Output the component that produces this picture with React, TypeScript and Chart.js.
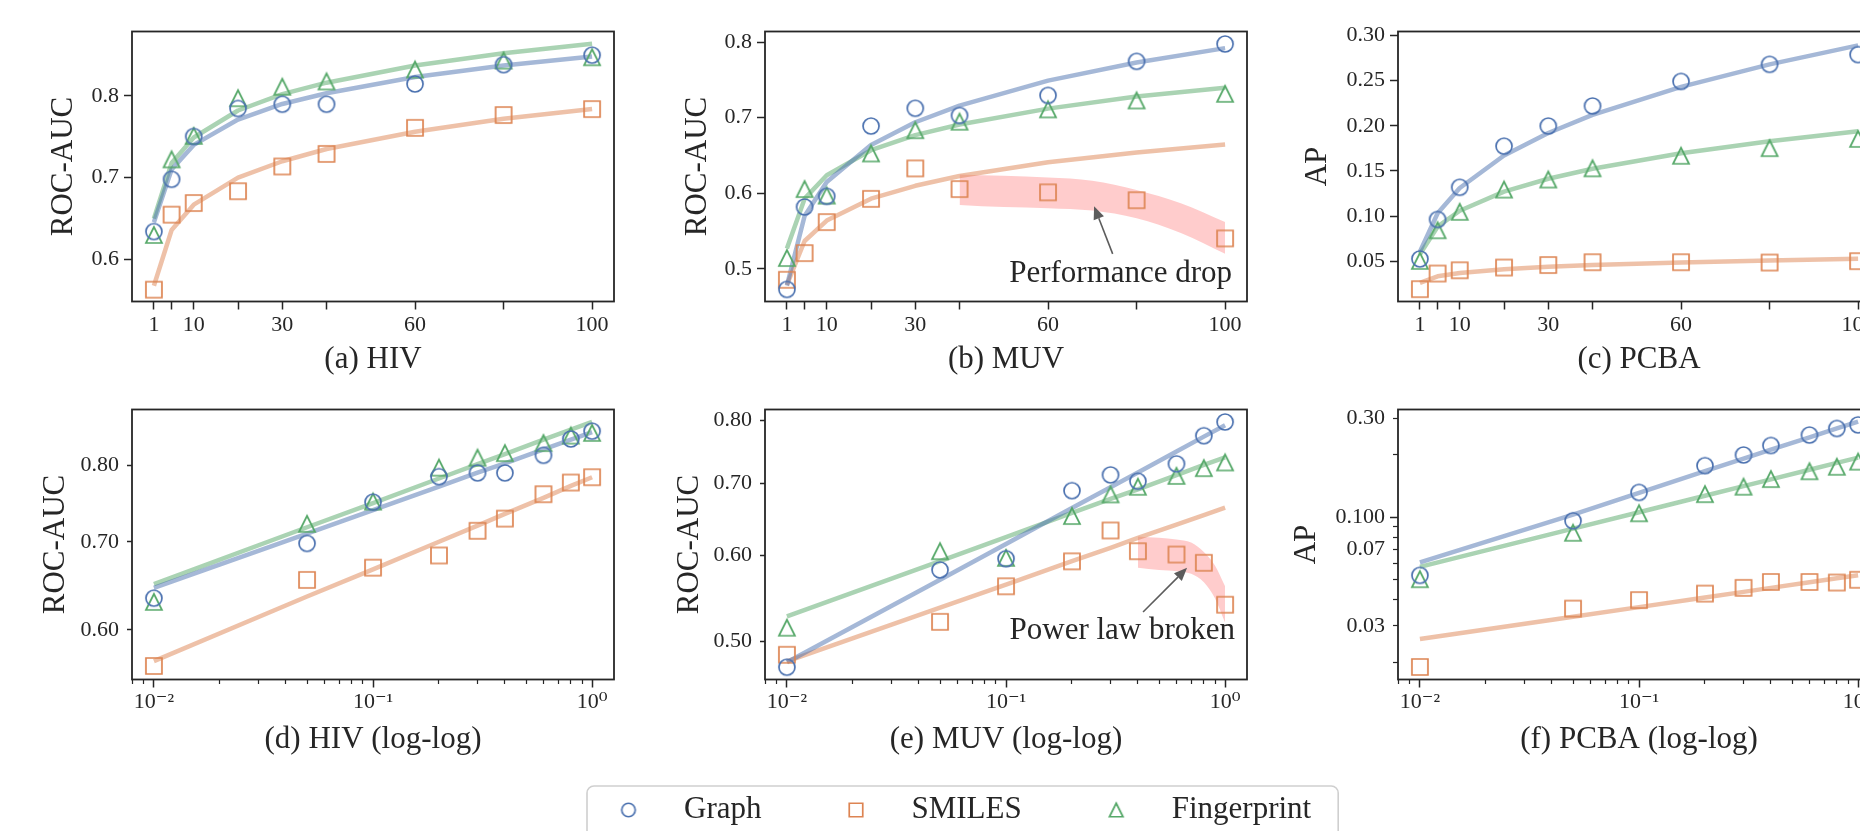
import React, { useEffect, useRef } from 'react';
import { Chart, registerables } from 'chart.js';

Chart.register(...registerables);

const FONT = '"Liberation Serif", "DejaVu Serif", serif';
const TXT = '#262626';
const AX = '#262626';
const ARROW = '#5c5c5c';

const SERIES_LABELS = ['Graph', 'SMILES', 'Fingerprint'];
const SERIES_COLORS = ['#4c72b0', '#dd8452', '#55a868'];
const FIT_COLORS = ['rgba(76,114,176,0.5)', 'rgba(221,132,82,0.5)', 'rgba(85,168,104,0.5)'];
const BAND_COLOR = 'rgba(255,0,0,0.2)';

// x values (percent of data / fraction of data)
const X_LIN = [1, 5, 10, 20, 30, 40, 60, 80, 100];
const X_LOG = [0.01, 0.05, 0.1, 0.2, 0.3, 0.4, 0.6, 0.8, 1.0];

// tick values and labels
const X_LIN_TICKS = [1, 5, 10, 20, 30, 40, 60, 80, 100];
const X_LIN_TICK_LABELS = ['1', '', '10', '', '30', '', '60', '', '100'];
const X_LOG_MAJOR = [0.01, 0.1, 1];
const X_LOG_MAJOR_LABELS = ['10\u207B\u00B2', '10\u207B\u00B9', '10\u2070'];
const X_LOG_MINOR = [0.008, 0.009, 0.02, 0.03, 0.04, 0.05, 0.06, 0.07, 0.08, 0.09, 0.2, 0.3, 0.4, 0.5, 0.6, 0.7, 0.8, 0.9];

const Y_TICKS_HIV = [0.6, 0.7, 0.8];
const Y_LABELS_HIV = ['0.6', '0.7', '0.8'];
const Y_TICKS_MUV = [0.5, 0.6, 0.7, 0.8];
const Y_LABELS_MUV = ['0.5', '0.6', '0.7', '0.8'];
const Y_TICKS_PCBA = [0.05, 0.1, 0.15, 0.2, 0.25, 0.3];
const Y_LABELS_PCBA = ['0.05', '0.10', '0.15', '0.20', '0.25', '0.30'];
const Y_TICKS_HIV_LOG = [0.6, 0.7, 0.8];
const Y_LABELS_HIV_LOG = ['0.60', '0.70', '0.80'];
const Y_TICKS_MUV_LOG = [0.5, 0.6, 0.7, 0.8];
const Y_LABELS_MUV_LOG = ['0.50', '0.60', '0.70', '0.80'];
const Y_TICKS_PCBA_LOG = [0.03, 0.07, 0.1, 0.3];
const Y_LABELS_PCBA_LOG = ['0.03', '0.07', '0.100', '0.30'];
const Y_MINOR_PCBA_LOG = [0.02, 0.03, 0.04, 0.05, 0.06, 0.07, 0.08, 0.09, 0.2, 0.3];

// HIV (ROC-AUC)
const HIV_GRAPH = [0.6342, 0.698, 0.7503, 0.7845, 0.7897, 0.7897, 0.8144, 0.838, 0.8496];
const HIV_SMILES = [0.5632, 0.6548, 0.669, 0.6834, 0.7136, 0.729, 0.7608, 0.7765, 0.7837];
const HIV_FP = [0.63, 0.7223, 0.751, 0.797, 0.811, 0.8175, 0.832, 0.843, 0.847];
const HIV_GRAPH_FIT = [0.6456, 0.71, 0.74, 0.771, 0.79, 0.803, 0.823, 0.837, 0.848];
const HIV_SMILES_FIT = [0.568, 0.636, 0.667, 0.7, 0.72, 0.735, 0.756, 0.772, 0.7837];
const HIV_FP_FIT = [0.65, 0.718, 0.749, 0.782, 0.802, 0.816, 0.837, 0.852, 0.8635];

// MUV (ROC-AUC)
const MUV_GRAPH = [0.473, 0.582, 0.596, 0.689, 0.7125, 0.703, 0.7295, 0.7745, 0.7975];
const MUV_SMILES = [0.4857, 0.521, 0.562, 0.5927, 0.633, 0.6056, 0.6013, 0.5909, 0.5404];
const MUV_FP = [0.5145, 0.6056, 0.597, 0.6527, 0.6835, 0.6947, 0.711, 0.7228, 0.7316];
const MUV_GRAPH_FIT = [0.478, 0.57, 0.615, 0.664, 0.694, 0.716, 0.749, 0.773, 0.792];
const MUV_SMILES_FIT = [0.479, 0.537, 0.564, 0.593, 0.61, 0.623, 0.641, 0.654, 0.6645];
const MUV_FP_FIT = [0.527, 0.593, 0.624, 0.657, 0.677, 0.691, 0.712, 0.728, 0.7395];
const MUV_BAND_X_LIN = [40, 50, 60, 70, 80, 90, 100];
const MUV_BAND_X_LOG = [0.4, 0.5, 0.6, 0.7, 0.8, 0.9, 1.0];
const MUV_BAND_UPPER = [0.625, 0.6232, 0.621, 0.6168, 0.6045, 0.587, 0.562];
const MUV_BAND_LOWER = [0.5846, 0.5818, 0.5804, 0.5772, 0.567, 0.5475, 0.52];

// PCBA (AP)
const PCBA_GRAPH = [0.0525, 0.0962, 0.1318, 0.1774, 0.1997, 0.2219, 0.2491, 0.268, 0.2788];
const PCBA_SMILES = [0.019, 0.0363, 0.0399, 0.0429, 0.0457, 0.0488, 0.0488, 0.0485, 0.05];
const PCBA_FP = [0.0503, 0.0842, 0.1046, 0.1293, 0.1404, 0.1528, 0.1667, 0.1752, 0.1854];
const PCBA_GRAPH_FIT = [0.0606, 0.103, 0.131, 0.167, 0.192, 0.212, 0.243, 0.268, 0.289];
const PCBA_SMILES_FIT = [0.0259, 0.0332, 0.0369, 0.0411, 0.0437, 0.0457, 0.0486, 0.0508, 0.0526];
const PCBA_FP_FIT = [0.0577, 0.0882, 0.1058, 0.127, 0.1413, 0.1524, 0.1696, 0.1829, 0.194];

// annotations (data coordinates)
const ANNOT_MUV_LIN = { text: 'Performance drop', at: [76.4, 0.4938], tail: [74.6, 0.52], head: [70.4, 0.583] };
const ANNOT_MUV_LOG = { text: 'Power law broken', at: [0.3395, 0.511], tail: [0.4223, 0.532], head: [0.6707, 0.5845] };

type Panel = {
  col: number; row: number; log: boolean;
  series: number[][]; fits: number[][];
  yMin: number; yMax: number; yTicks: number[]; yLabels: string[]; yMinor?: number[];
  majorValue?: number; yTickLen: number;
  yTitle: string; xTitle: string; yTitlePad: number;
  band?: { x: number[]; upper: number[]; lower: number[] };
  annot?: any;
};

const PANELS: Panel[] = [
  { col: 0, row: 0, log: false, series: [HIV_GRAPH, HIV_SMILES, HIV_FP], fits: [HIV_GRAPH_FIT, HIV_SMILES_FIT, HIV_FP_FIT],
    yMin: 0.5487, yMax: 0.8785, yTicks: Y_TICKS_HIV, yLabels: Y_LABELS_HIV, yTickLen: 8,
    yTitle: 'ROC-AUC', xTitle: '(a) HIV', yTitlePad: 45.4 },
  { col: 1, row: 0, log: false, series: [MUV_GRAPH, MUV_SMILES, MUV_FP], fits: [MUV_GRAPH_FIT, MUV_SMILES_FIT, MUV_FP_FIT],
    yMin: 0.457, yMax: 0.814, yTicks: Y_TICKS_MUV, yLabels: Y_LABELS_MUV, yTickLen: 8,
    yTitle: 'ROC-AUC', xTitle: '(b) MUV', yTitlePad: 46.4,
    band: { x: MUV_BAND_X_LIN, upper: MUV_BAND_UPPER, lower: MUV_BAND_LOWER }, annot: ANNOT_MUV_LIN },
  { col: 2, row: 0, log: false, series: [PCBA_GRAPH, PCBA_SMILES, PCBA_FP], fits: [PCBA_GRAPH_FIT, PCBA_SMILES_FIT, PCBA_FP_FIT],
    yMin: 0.0053, yMax: 0.3044, yTicks: Y_TICKS_PCBA, yLabels: Y_LABELS_PCBA, yTickLen: 8,
    yTitle: 'AP', xTitle: '(c) PCBA', yTitlePad: 33.4 },
  { col: 0, row: 1, log: true, series: [HIV_GRAPH, HIV_SMILES, HIV_FP], fits: [HIV_GRAPH_FIT, HIV_SMILES_FIT, HIV_FP_FIT],
    yMin: 0.5518, yMax: 0.8824, yTicks: Y_TICKS_HIV_LOG, yLabels: Y_LABELS_HIV_LOG, yTickLen: 5,
    yTitle: 'ROC-AUC', xTitle: '(d) HIV (log-log)', yTitlePad: 37.4 },
  { col: 1, row: 1, log: true, series: [MUV_GRAPH, MUV_SMILES, MUV_FP], fits: [MUV_GRAPH_FIT, MUV_SMILES_FIT, MUV_FP_FIT],
    yMin: 0.4608, yMax: 0.819, yTicks: Y_TICKS_MUV_LOG, yLabels: Y_LABELS_MUV_LOG, yTickLen: 5,
    yTitle: 'ROC-AUC', xTitle: '(e) MUV (log-log)', yTitlePad: 38.4,
    band: { x: MUV_BAND_X_LOG, upper: MUV_BAND_UPPER, lower: MUV_BAND_LOWER }, annot: ANNOT_MUV_LOG },
  { col: 2, row: 1, log: true, series: [PCBA_GRAPH, PCBA_SMILES, PCBA_FP], fits: [PCBA_GRAPH_FIT, PCBA_SMILES_FIT, PCBA_FP_FIT],
    yMin: 0.01653, yMax: 0.3308, yTicks: Y_TICKS_PCBA_LOG, yLabels: Y_LABELS_PCBA_LOG, yMinor: Y_MINOR_PCBA_LOG, majorValue: 0.1, yTickLen: 8,
    yTitle: 'AP', xTitle: '(f) PCBA (log-log)', yTitlePad: 22.4 },
];

const CANVAS_W = 633;
const CANVAS_H = 380;
const ROW_PITCH = 378;
const Y_AXIS_W = 132;
const X_AXIS_H = 78.5;

function makeMarker(shape: string, color: string, size: number, lw: number): HTMLCanvasElement {
  const half = Math.ceil((size + lw) / 2 + 2);
  const dim = half * 2;
  const c = document.createElement('canvas');
  c.width = dim; c.height = dim;
  const g = c.getContext('2d')!;
  g.strokeStyle = color; g.lineWidth = lw; g.lineJoin = 'miter';
  const h = size / 2;
  g.beginPath();
  if (shape === 'circle') g.arc(half, half, h, 0, Math.PI * 2);
  else if (shape === 'square') g.rect(half - h, half - h, size, size);
  else { g.moveTo(half, half - h); g.lineTo(half - h, half + h); g.lineTo(half + h, half + h); g.closePath(); }
  g.stroke();
  return c;
}

const framePlugin = {
  id: 'frame',
  afterDatasetsDraw(chart: any) {
    const { left, top, right, bottom } = chart.chartArea;
    const ctx = chart.ctx;
    ctx.save();
    ctx.strokeStyle = AX; ctx.lineWidth = 1.8;
    ctx.strokeRect(left, top, right - left, bottom - top);
    ctx.restore();
  },
};

const annotPlugin = {
  id: 'annot',
  afterDatasetsDraw(chart: any, _args: any, opts: any) {
    if (!opts || !opts.text) return;
    const xs = chart.scales.x, ys = chart.scales.y, ctx = chart.ctx;
    const tx = xs.getPixelForValue(opts.tail[0]), ty = ys.getPixelForValue(opts.tail[1]);
    const hx = xs.getPixelForValue(opts.head[0]), hy = ys.getPixelForValue(opts.head[1]);
    const ang = Math.atan2(hy - ty, hx - tx);
    const L = 13, W = 5.5;
    const bx = hx - L * Math.cos(ang), by = hy - L * Math.sin(ang);
    ctx.save();
    ctx.strokeStyle = ARROW; ctx.fillStyle = ARROW; ctx.lineWidth = 1.6;
    ctx.beginPath(); ctx.moveTo(tx, ty); ctx.lineTo(bx, by); ctx.stroke();
    ctx.beginPath();
    ctx.moveTo(hx, hy);
    ctx.lineTo(bx + W * Math.sin(ang), by - W * Math.cos(ang));
    ctx.lineTo(bx - W * Math.sin(ang), by + W * Math.cos(ang));
    ctx.closePath(); ctx.fill();
    ctx.font = `31px ${FONT}`; ctx.fillStyle = TXT; ctx.textAlign = 'center'; ctx.textBaseline = 'middle';
    ctx.fillText(opts.text, xs.getPixelForValue(opts.at[0]), ys.getPixelForValue(opts.at[1]));
    ctx.restore();
  },
};

const legendFramePlugin = {
  id: 'legendFrame',
  beforeDraw(chart: any) {
    const hb = chart.legend && chart.legend.legendHitBoxes;
    if (!hb || !hb.length) return;
    const ctx = chart.ctx;
    const first = hb[0], last = hb[hb.length - 1];
    const l = first.left - 1.5, r = last.left + last.width + 27, t = first.top - 8.5;
    ctx.save();
    ctx.fillStyle = '#ffffff'; ctx.strokeStyle = '#cfcfcf'; ctx.lineWidth = 1.6;
    ctx.beginPath();
    (ctx as any).roundRect(l, t, r - l, 120, 7);
    ctx.fill(); ctx.stroke();
    ctx.restore();
  },
};

function buildPanel(canvas: HTMLCanvasElement, p: Panel, markers: HTMLCanvasElement[]) {
  const xs = p.log ? X_LOG : X_LIN;
  const pts = (xv: number[], yv: number[]) => xv.map((x, i) => ({ x, y: yv[i] }));
  const markerSets = p.series.map((ys, k) => ({
    label: SERIES_LABELS[k], data: pts(xs, ys), showLine: false, pointStyle: markers[k], pointRadius: 8,
    borderColor: SERIES_COLORS[k], backgroundColor: 'transparent', order: 0, xAxisID: 'x', yAxisID: 'y',
  }));
  const fitSets = p.fits.map((ys, k) => ({
    label: SERIES_LABELS[k] + ' fit', data: pts(xs, ys), showLine: true, pointRadius: 0,
    borderColor: FIT_COLORS[k], borderWidth: 4.5, tension: 0, fill: false, order: 1,
    borderJoinStyle: 'round', borderCapStyle: 'butt', xAxisID: 'x', yAxisID: 'y',
  }));
  const bandSets: any[] = p.band ? [
    { label: 'band upper', data: pts(p.band.x, p.band.upper), showLine: true, pointRadius: 0, borderWidth: 0,
      borderColor: 'transparent', backgroundColor: BAND_COLOR, fill: '+1', cubicInterpolationMode: 'monotone', order: 2, xAxisID: 'x', yAxisID: 'y' },
    { label: 'band lower', data: pts(p.band.x, p.band.lower), showLine: true, pointRadius: 0, borderWidth: 0,
      borderColor: 'transparent', backgroundColor: 'transparent', fill: false, cubicInterpolationMode: 'monotone', order: 2, xAxisID: 'x', yAxisID: 'y' },
  ] : [];

  const xMin = p.log ? 0.007943 : -3.95;
  const xMax = p.log ? 1.2589 : 104.95;
  const xTicks = p.log ? X_LOG_MAJOR : X_LIN_TICKS;
  const xLabels = p.log ? X_LOG_MAJOR_LABELS : X_LIN_TICK_LABELS;
  const tickFont = { family: FONT, size: 22 };
  const titleFont = { family: FONT, size: 31 };
  const zeroPad = (s: any) => { s.paddingLeft = 0; s.paddingRight = 0; s.paddingTop = 0; s.paddingBottom = 0; };

  const scales: any = {
    x: {
      type: p.log ? 'logarithmic' : 'linear', axis: 'x', position: 'bottom', weight: 1, min: xMin, max: xMax,
      afterBuildTicks: (s: any) => { s.ticks = xTicks.map((v) => ({ value: v })); },
      afterFit: (s: any) => { s.height = X_AXIS_H; zeroPad(s); },
      ticks: { callback: (_v: any, i: number) => xLabels[i], autoSkip: false, maxRotation: 0, minRotation: 0,
        font: tickFont, color: TXT, padding: p.row === 0 ? 3 : 1.5 },
      grid: { drawOnChartArea: false, drawTicks: true, tickLength: 8, tickWidth: 1.5, tickColor: AX },
      border: { display: false },
      title: { display: true, text: p.xTitle, font: titleFont, color: TXT, padding: { top: 0, bottom: p.row === 0 ? 1.9 : 0 } },
    },
  };
  if (p.log) {
    scales.x2 = {
      type: 'logarithmic', axis: 'x', position: 'bottom', weight: 0, min: xMin, max: xMax,
      afterBuildTicks: (s: any) => { s.ticks = X_LOG_MINOR.map((v) => ({ value: v })); },
      afterFit: (s: any) => { s.height = 0; zeroPad(s); },
      ticks: { display: false, autoSkip: false },
      grid: { drawOnChartArea: false, drawTicks: true, tickLength: 4.5, tickWidth: 1.2, tickColor: AX },
      border: { display: false },
    };
  }
  scales.y = {
    type: p.log ? 'logarithmic' : 'linear', axis: 'y', position: 'left', weight: 1, min: p.yMin, max: p.yMax,
    afterBuildTicks: (s: any) => { s.ticks = p.yTicks.map((v) => ({ value: v })); },
    afterFit: (s: any) => { s.width = Y_AXIS_W; zeroPad(s); },
    ticks: { callback: (_v: any, i: number) => p.yLabels[i], autoSkip: false, font: tickFont, color: TXT,
      padding: 13 - p.yTickLen },
    grid: {
      drawOnChartArea: false, drawTicks: true, tickLength: p.yTickLen, tickWidth: 1.5,
      tickColor: p.majorValue !== undefined
        ? (c: any) => (c.tick && Math.abs(c.tick.value - (p.majorValue as number)) < 1e-9 ? AX : 'rgba(0,0,0,0)')
        : AX,
    },
    border: { display: false },
    title: { display: true, text: p.yTitle, font: titleFont, color: TXT, padding: { top: p.yTitlePad, bottom: 0 } },
  };
  if (p.yMinor) {
    const minor = p.yMinor;
    scales.y2 = {
      type: 'logarithmic', axis: 'y', position: 'left', weight: 0, min: p.yMin, max: p.yMax,
      afterBuildTicks: (s: any) => { s.ticks = minor.map((v) => ({ value: v })); },
      afterFit: (s: any) => { s.width = 0; zeroPad(s); },
      ticks: { display: false, autoSkip: false },
      grid: { drawOnChartArea: false, drawTicks: true, tickLength: 5, tickWidth: 1.2, tickColor: AX },
      border: { display: false },
    };
  }

  return new Chart(canvas, {
    type: 'line',
    data: { datasets: [...markerSets, ...fitSets, ...bandSets] as any },
    options: {
      responsive: false, animation: false, devicePixelRatio: 1, events: [],
      layout: { padding: { left: 0, top: 31.5, right: CANVAS_W - Y_AXIS_W - 482, bottom: 0 } },
      scales,
      plugins: {
        legend: { display: false }, tooltip: { enabled: false },
        annot: p.annot || {},
      } as any,
    },
    plugins: [framePlugin, annotPlugin],
  });
}

function buildLegend(canvas: HTMLCanvasElement, imgs: HTMLCanvasElement[]) {
  return new Chart(canvas, {
    type: 'line',
    data: { datasets: SERIES_LABELS.map((l, k) => ({ label: l, data: [], borderColor: SERIES_COLORS[k] })) },
    options: {
      responsive: false, animation: false, devicePixelRatio: 1, events: [],
      layout: { padding: 0 },
      scales: { x: { type: 'linear', display: false }, y: { display: false } },
      plugins: {
        tooltip: { enabled: false },
        legend: {
          display: true, position: 'top', align: 'start',
          labels: {
            usePointStyle: true, pointStyleWidth: 80, boxHeight: 31, padding: 54.5,
            font: { family: FONT, size: 31 }, color: TXT,
            generateLabels: () => SERIES_LABELS.map((t, k) => ({
              text: t, pointStyle: imgs[k], fillStyle: 'transparent', strokeStyle: SERIES_COLORS[k],
              lineWidth: 1, hidden: false, datasetIndex: k, fontColor: TXT,
            })) as any,
          },
        },
      },
    },
    plugins: [legendFramePlugin],
  });
}

export default function App() {
  const refs = useRef<(HTMLCanvasElement | null)[]>([]);
  const legendRef = useRef<HTMLCanvasElement | null>(null);

  useEffect(() => {
    const shapes = ['circle', 'square', 'triangle'];
    const markers = shapes.map((s, k) => makeMarker(s, SERIES_COLORS[k], 16, 1.7));
    const legendMarkers = shapes.map((s, k) => makeMarker(s, SERIES_COLORS[k], 13.5, 1.7));
    const charts: Chart[] = [];
    PANELS.forEach((p, i) => {
      const cv = refs.current[i];
      if (cv) charts.push(buildPanel(cv, p, markers));
    });
    if (legendRef.current) charts.push(buildLegend(legendRef.current, legendMarkers));
    return () => { charts.forEach((c) => c.destroy()); };
  }, []);

  return (
    <div style={{ position: 'absolute', left: 0, top: 0, width: 1860, height: 831, overflow: 'hidden', background: '#ffffff' }}>
      {PANELS.map((p, i) => (
        <canvas
          key={i}
          ref={(el) => { refs.current[i] = el; }}
          width={CANVAS_W}
          height={CANVAS_H}
          style={{ position: 'absolute', left: p.col * CANVAS_W, top: p.row * ROW_PITCH, width: CANVAS_W, height: CANVAS_H }}
        />
      ))}
      <canvas
        ref={legendRef}
        width={900}
        height={200}
        style={{ position: 'absolute', left: 534, top: 740, width: 900, height: 200 }}
      />
    </div>
  );
}
